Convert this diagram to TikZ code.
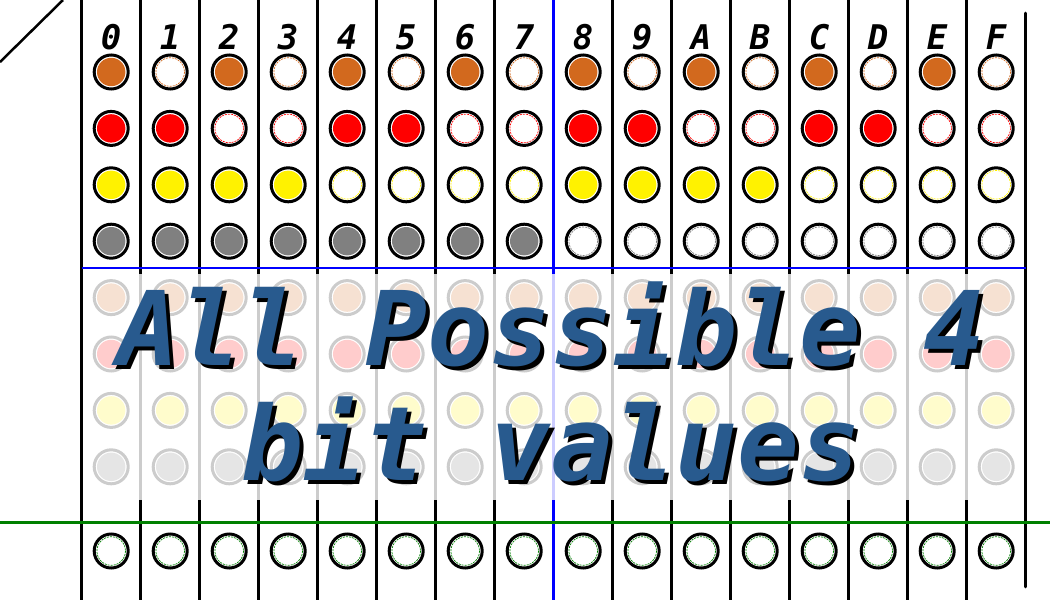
\documentclass[tikz,border=0pt]{standalone}
\usepackage{fontspec}
\usetikzlibrary{positioning}
\newfontfamily\hexfont{DejaVu Sans Mono Bold Oblique}
\definecolor{bitorange}{RGB}{210,105,30}
\definecolor{bitgrey}{RGB}{128,128,128}
\definecolor{titleblue}{RGB}{40,90,142}
\definecolor{rulegreen}{RGB}{0,128,0}

\begin{document}
\begin{tikzpicture}[x=1pt,y=-1pt]
 \tikzset{colline/.style={line width=2.8pt,black},
          ring/.style={draw=black,line width=3pt,fill=white},
          hollow/.style={line width=0.7pt,dash pattern=on 2pt off 1pt},
          hexlabel/.style={font=\hexfont\fontsize{34}{34}\selectfont,anchor=base},
          title/.style={font=\hexfont\fontsize{103}{118}\selectfont,anchor=base,inner sep=0pt}}
 \useasboundingbox (0,0) rectangle (1050,600);

 % column rules
 \draw[line width=2.5pt] (0,62) -- (63,0);
 \foreach \i in {0,...,15}
   \draw[colline] (81.7+59*\i,0) -- (81.7+59*\i,600);
 \draw[line width=2.5pt,blue] (553.7,0) -- (553.7,600);
 \draw[colline,line cap=round] (1025.7,13) -- (1025.7,587);

 % bit lamps, one column per hex digit
 \foreach \d/\lab in {0/0,1/1,2/2,3/3,4/4,5/5,6/6,7/7,8/8,9/9,10/A,11/B,12/C,13/D,14/E,15/F} {
   \pgfmathsetmacro\cx{111.2+59*\d}
   \foreach \r/\c in {0/bitorange,1/red,2/yellow,3/bitgrey} {
     \pgfmathtruncatemacro\bit{mod(floor(\d/2^\r),2)}
     \pgfmathsetmacro\cy{72+56.4*\r}
     \draw[ring] (\cx,\cy) circle (17);
     \ifnum\bit=0
       \fill[\c] (\cx,\cy) circle (14.2);
     \else
       \draw[hollow,\c] (\cx,\cy) circle (14.3);
     \fi
     % faded copy
     \pgfmathsetmacro\fy{297.6+56.4*\r}
     \draw[ring] (\cx,\fy) circle (17);
     \fill[\c] (\cx,\fy) circle (14.2);
   }
   \draw[ring] (\cx,551) circle (17);
   \draw[hollow,rulegreen] (\cx,551) circle (14.3);
   \node[hexlabel] (h\lab) at (\cx,49) {\lab};
 }

 % fade
 \fill[white,opacity=0.8] (83.5,274) rectangle (1024.3,500);
 \draw[line width=2.5pt,blue] (81.7,268) -- (1025.7,268);
 \draw[line width=3pt,rulegreen] (0,522) -- (1050,522);

 % title with shadow
 \node[title,black] (t1s) at (556,369) {All Possible 4};
 \node[title,titleblue] (t1) at (552,365) {All Possible 4};
 \node[title,black] (t2s) at (556,484) {bit values};
 \node[title,titleblue] (t2) at (552,480) {bit values};
\end{tikzpicture}
\end{document}
